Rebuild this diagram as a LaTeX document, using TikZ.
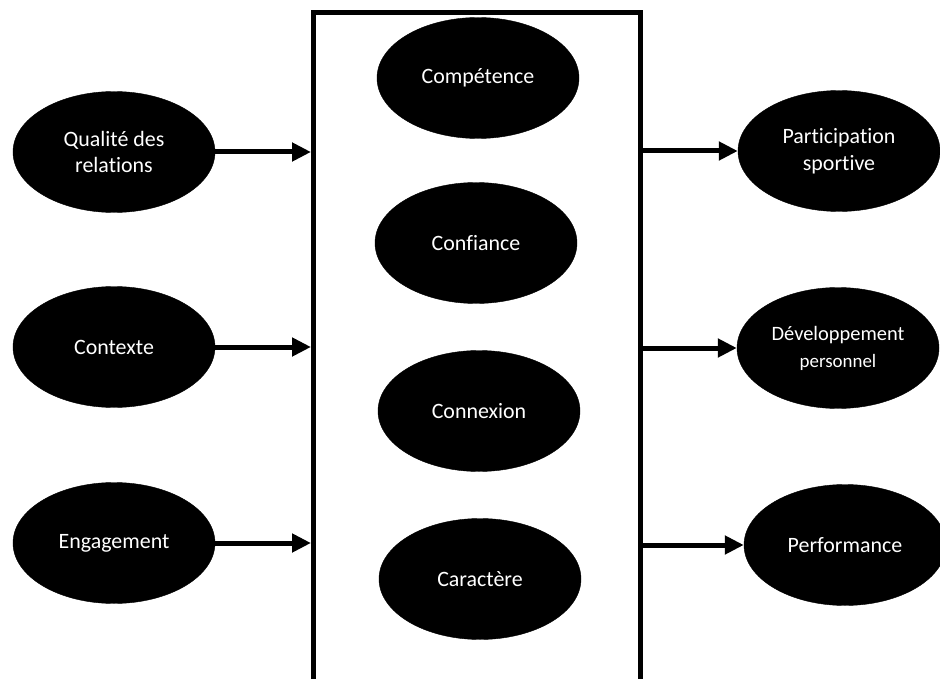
\documentclass[tikz,border=0pt]{standalone}
\usepackage{fontspec}
\setmainfont{Carlito}[Ligatures=NoCommon]
\usetikzlibrary{shapes.geometric,arrows.meta}
\begin{document}
\begin{tikzpicture}[x=1bp,y=-1bp,
  oval/.style={ellipse,fill=black,draw=black,minimum width=202bp,minimum height=121bp,
    inner sep=0pt,text=white,align=center,font=\fontsize{22}{27}\selectfont},
  wall/.style={line width=5bp,line cap=rect},
  arr/.style={line width=5bp,-{Triangle[length=19bp,width=18bp]}}]
\path[use as bounding box,fill=white] (0,0) rectangle (940,679);
% open frame around the four central qualities
\begin{scope}
  \clip (0,0) rectangle (940,679);
  \draw[wall] (313,700) -- (313,13) -- (640,13) -- (640,700);
\end{scope}
\coordinate (lw) at (311,0);
\coordinate (rw) at (642,0);
% inputs
\node[oval] (qual) at (114,152) {Qualité des\\relations};
\node[oval] (ctx)  at (114,347) {Contexte};
\node[oval] (eng)  at (114,543) {Engagement};
% central qualities
\node[oval] (comp) at (478,78)  {Compétence};
\node[oval] (conf) at (476,243) {Confiance};
\node[oval] (conn) at (479,411) {Connexion};
\node[oval] (car)  at (480,579) {Caractère};
% outcomes
\node[oval] (part) at (839,151) {Participation\\sportive};
\node[oval] (dev)  at (838,348) {{\fontsize{20.5}{25}\selectfont Développement}\\{\fontsize{19}{25}\selectfont personnel}};
\node[oval] (perf) at (845,545) {Performance};
% connectors
\draw[arr] (qual.east) -- (qual.east -| lw);
\draw[arr] (ctx.east)  -- (ctx.east -| lw);
\draw[arr] (eng.east)  -- (eng.east -| lw);
\draw[arr] (rw |- part.west) -- (part.west);
\draw[arr] (rw |- dev.west)  -- (dev.west);
\draw[arr] (rw |- perf.west) -- (perf.west);
\end{tikzpicture}
\end{document}
